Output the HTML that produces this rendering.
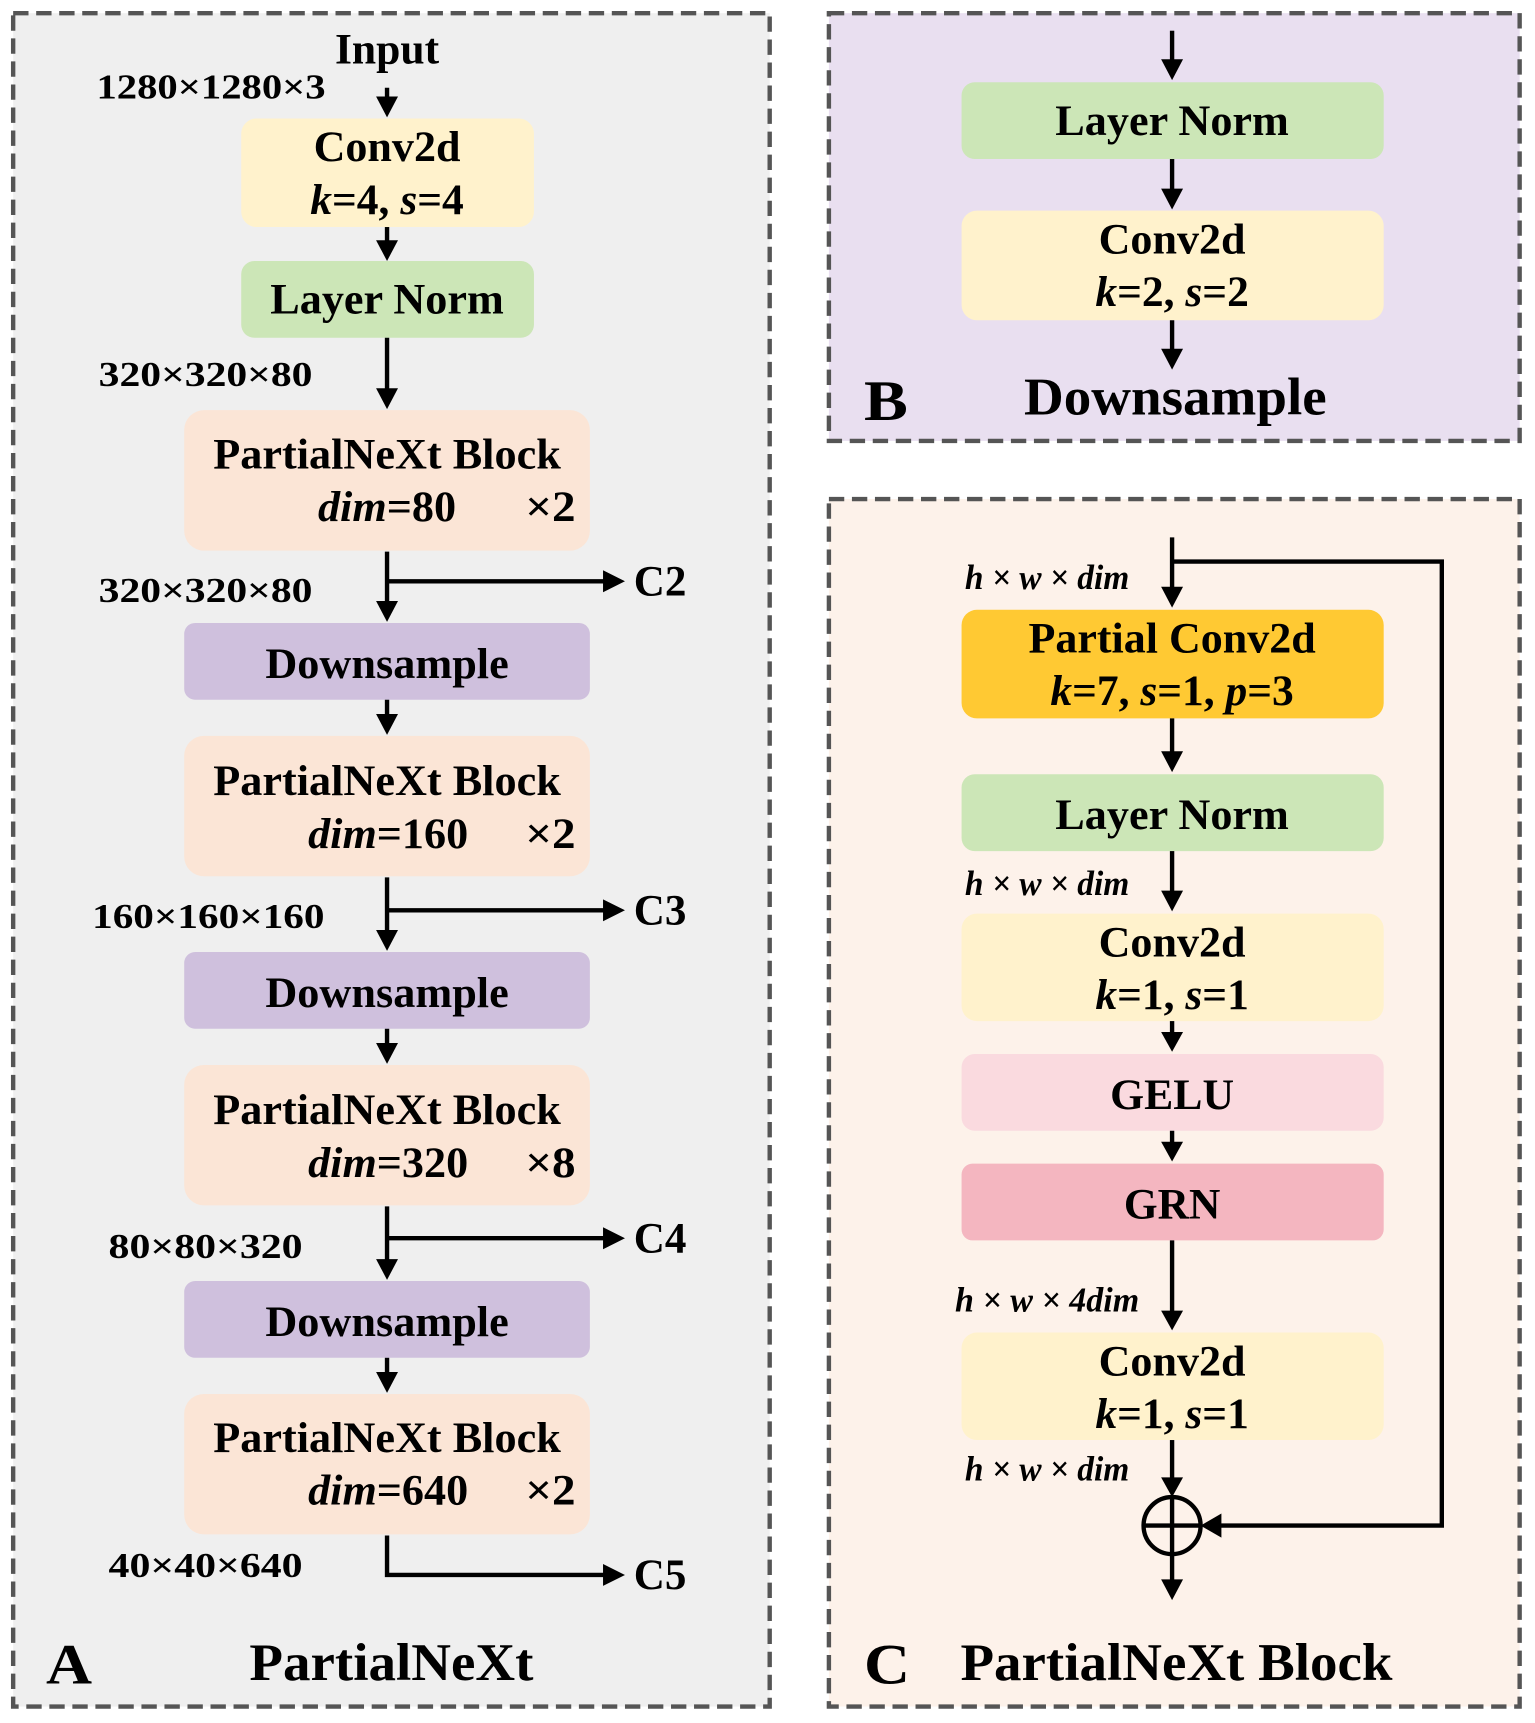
<!DOCTYPE html>
<html><head><meta charset="utf-8"><style>
html,body{margin:0;padding:0;background:#fff;}
svg{display:block;}
text{font-family:"Liberation Serif",serif;font-weight:bold;fill:#000;}
</style></head><body>
<svg width="1535" height="1723" viewBox="0 0 1400 1571" preserveAspectRatio="none" xmlns="http://www.w3.org/2000/svg">
<g stroke="#555" stroke-width="4" stroke-dasharray="14,7">
<rect x="12" y="12" width="690" height="1544" fill="#efefef"/>
<rect x="756" y="12" width="630" height="390" fill="#e9dff0"/>
<rect x="756" y="455" width="630" height="1101" fill="#fdf2ea"/>
</g>
<g>
<rect x="220" y="108" width="267" height="99" rx="14" fill="#fff2cc"/>
<rect x="220" y="238" width="267" height="70" rx="12" fill="#cce6b7"/>
<rect x="168" y="374" width="370" height="128" rx="18" fill="#fbe5d6"/>
<rect x="168" y="568" width="370" height="70" rx="10" fill="#cfc0dd"/>
<rect x="168" y="671" width="370" height="128" rx="18" fill="#fbe5d6"/>
<rect x="168" y="868" width="370" height="70" rx="10" fill="#cfc0dd"/>
<rect x="168" y="971" width="370" height="128" rx="18" fill="#fbe5d6"/>
<rect x="168" y="1168" width="370" height="70" rx="10" fill="#cfc0dd"/>
<rect x="168" y="1271" width="370" height="128" rx="18" fill="#fbe5d6"/>
</g>
<g stroke="#000" stroke-width="4" fill="none">
<line x1="353" y1="80" x2="353" y2="92"/>
<line x1="353" y1="207" x2="353" y2="222"/>
<line x1="353" y1="308" x2="353" y2="356"/>
<line x1="353" y1="503" x2="353" y2="550"/>
<line x1="353" y1="530" x2="552" y2="530"/>
<line x1="353" y1="638" x2="353" y2="653"/>
<line x1="353" y1="800" x2="353" y2="850"/>
<line x1="353" y1="830" x2="552" y2="830"/>
<line x1="353" y1="938" x2="353" y2="953"/>
<line x1="353" y1="1100" x2="353" y2="1150"/>
<line x1="353" y1="1129" x2="552" y2="1129"/>
<line x1="353" y1="1238" x2="353" y2="1253"/>
<polyline points="353,1400 353,1436 552,1436"/>
</g>
<g fill="#000">
<polygon points="343,88 363,88 353,107"/>
<polygon points="343,219 363,219 353,238"/>
<polygon points="343,354 363,354 353,373"/>
<polygon points="343,548 363,548 353,567"/>
<polygon points="550,520 550,540 570,530"/>
<polygon points="343,651 363,651 353,670"/>
<polygon points="343,848 363,848 353,867"/>
<polygon points="550,820 550,840 570,830"/>
<polygon points="343,951 363,951 353,970"/>
<polygon points="343,1148 363,1148 353,1167"/>
<polygon points="550,1119 550,1139 570,1129"/>
<polygon points="343,1251 363,1251 353,1270"/>
<polygon points="550,1426 550,1446 570,1436"/>
</g>
<g font-size="40" text-anchor="middle">
<text x="353" y="58" textLength="95" lengthAdjust="spacingAndGlyphs">Input</text>
<text x="353" y="147" textLength="134" lengthAdjust="spacingAndGlyphs">Conv2d</text>
<text x="353" y="195" textLength="140" lengthAdjust="spacingAndGlyphs"><tspan font-style="italic">k</tspan>=4, <tspan font-style="italic">s</tspan>=4</text>
<text x="353" y="286" textLength="213" lengthAdjust="spacingAndGlyphs">Layer Norm</text>
<text x="353" y="427" textLength="317" lengthAdjust="spacingAndGlyphs">PartialNeXt Block</text>
<text x="353" y="618" textLength="222" lengthAdjust="spacingAndGlyphs">Downsample</text>
<text x="353" y="725" textLength="317" lengthAdjust="spacingAndGlyphs">PartialNeXt Block</text>
<text x="353" y="918" textLength="222" lengthAdjust="spacingAndGlyphs">Downsample</text>
<text x="353" y="1025" textLength="317" lengthAdjust="spacingAndGlyphs">PartialNeXt Block</text>
<text x="353" y="1218" textLength="222" lengthAdjust="spacingAndGlyphs">Downsample</text>
<text x="353" y="1324" textLength="317" lengthAdjust="spacingAndGlyphs">PartialNeXt Block</text>
</g>
<g font-size="40">
<text x="290" y="475" textLength="126" lengthAdjust="spacingAndGlyphs"><tspan font-style="italic">dim</tspan>=80</text>
<text x="479" y="475" textLength="46" lengthAdjust="spacingAndGlyphs">×2</text>
<text x="281" y="773" textLength="146" lengthAdjust="spacingAndGlyphs"><tspan font-style="italic">dim</tspan>=160</text>
<text x="479" y="773" textLength="46" lengthAdjust="spacingAndGlyphs">×2</text>
<text x="281" y="1073" textLength="146" lengthAdjust="spacingAndGlyphs"><tspan font-style="italic">dim</tspan>=320</text>
<text x="479" y="1073" textLength="46" lengthAdjust="spacingAndGlyphs">×8</text>
<text x="281" y="1372" textLength="146" lengthAdjust="spacingAndGlyphs"><tspan font-style="italic">dim</tspan>=640</text>
<text x="479" y="1372" textLength="46" lengthAdjust="spacingAndGlyphs">×2</text>
<text x="578" y="543" textLength="48" lengthAdjust="spacingAndGlyphs">C2</text>
<text x="578" y="843" textLength="48" lengthAdjust="spacingAndGlyphs">C3</text>
<text x="578" y="1142" textLength="48" lengthAdjust="spacingAndGlyphs">C4</text>
<text x="578" y="1449" textLength="48" lengthAdjust="spacingAndGlyphs">C5</text>
</g>
<g font-size="32">
<text x="88" y="90" textLength="209" lengthAdjust="spacingAndGlyphs">1280×1280×3</text>
<text x="90" y="352" textLength="195" lengthAdjust="spacingAndGlyphs">320×320×80</text>
<text x="90" y="549" textLength="195" lengthAdjust="spacingAndGlyphs">320×320×80</text>
<text x="84" y="846" textLength="212" lengthAdjust="spacingAndGlyphs">160×160×160</text>
<text x="99" y="1147" textLength="177" lengthAdjust="spacingAndGlyphs">80×80×320</text>
<text x="99" y="1438" textLength="177" lengthAdjust="spacingAndGlyphs">40×40×640</text>
</g>
<text x="42" y="1535" font-size="52" textLength="42" lengthAdjust="spacingAndGlyphs">A</text>
<text x="357" y="1532" font-size="48" text-anchor="middle" textLength="259" lengthAdjust="spacingAndGlyphs">PartialNeXt</text>

<rect x="877" y="75" width="385" height="70" rx="12" fill="#cce6b7"/>
<rect x="877" y="192" width="385" height="100" rx="14" fill="#fff2cc"/>
<g stroke="#000" stroke-width="4">
<line x1="1069" y1="28" x2="1069" y2="56"/>
<line x1="1069" y1="145" x2="1069" y2="174"/>
<line x1="1069" y1="292" x2="1069" y2="320"/>
</g>
<g fill="#000">
<polygon points="1059,54 1079,54 1069,73"/>
<polygon points="1059,172 1079,172 1069,191"/>
<polygon points="1059,318 1079,318 1069,337"/>
</g>
<g font-size="40" text-anchor="middle">
<text x="1069" y="123" textLength="213" lengthAdjust="spacingAndGlyphs">Layer Norm</text>
<text x="1069" y="231" textLength="134" lengthAdjust="spacingAndGlyphs">Conv2d</text>
<text x="1069" y="279" textLength="140" lengthAdjust="spacingAndGlyphs"><tspan font-style="italic">k</tspan>=2, <tspan font-style="italic">s</tspan>=2</text>
</g>
<text x="788" y="383" font-size="52" textLength="40" lengthAdjust="spacingAndGlyphs">B</text>
<text x="1072" y="378" font-size="48" text-anchor="middle" textLength="276" lengthAdjust="spacingAndGlyphs">Downsample</text>

<rect x="877" y="556" width="385" height="99" rx="14" fill="#ffc933"/>
<rect x="877" y="706" width="385" height="70" rx="12" fill="#cce6b7"/>
<rect x="877" y="833" width="385" height="98" rx="14" fill="#fff2cc"/>
<rect x="877" y="961" width="385" height="70" rx="12" fill="#fadadf"/>
<rect x="877" y="1061" width="385" height="70" rx="10" fill="#f4b6c0"/>
<rect x="877" y="1215" width="385" height="98" rx="14" fill="#fff2cc"/>
<g stroke="#000" stroke-width="4" fill="none">
<line x1="1069" y1="490" x2="1069" y2="536"/>
<polyline points="1069,512 1315,512 1315,1391 1112,1391"/>
<line x1="1069" y1="655" x2="1069" y2="686"/>
<line x1="1069" y1="776" x2="1069" y2="813"/>
<line x1="1069" y1="931" x2="1069" y2="942"/>
<line x1="1069" y1="1031" x2="1069" y2="1042"/>
<line x1="1069" y1="1131" x2="1069" y2="1196"/>
<line x1="1069" y1="1313" x2="1069" y2="1348"/>
<circle cx="1069" cy="1391" r="26"/>
<line x1="1043" y1="1391" x2="1095" y2="1391"/>
<line x1="1069" y1="1365" x2="1069" y2="1441"/>
</g>
<g fill="#000">
<polygon points="1059,535 1079,535 1069,554"/>
<polygon points="1059,685 1079,685 1069,704"/>
<polygon points="1059,812 1079,812 1069,831"/>
<polygon points="1059,941 1079,941 1069,959"/>
<polygon points="1059,1041 1079,1041 1069,1059"/>
<polygon points="1059,1195 1079,1195 1069,1213"/>
<polygon points="1059,1347 1079,1347 1069,1365"/>
<polygon points="1114,1380 1114,1402 1095,1391"/>
<polygon points="1059,1440 1079,1440 1069,1459"/>
</g>
<g font-size="40" text-anchor="middle">
<text x="1069" y="595" textLength="262" lengthAdjust="spacingAndGlyphs">Partial Conv2d</text>
<text x="1069" y="643" textLength="222" lengthAdjust="spacingAndGlyphs"><tspan font-style="italic">k</tspan>=7, <tspan font-style="italic">s</tspan>=1, <tspan font-style="italic">p</tspan>=3</text>
<text x="1069" y="756" textLength="213" lengthAdjust="spacingAndGlyphs">Layer Norm</text>
<text x="1069" y="872" textLength="134" lengthAdjust="spacingAndGlyphs">Conv2d</text>
<text x="1069" y="920" textLength="140" lengthAdjust="spacingAndGlyphs"><tspan font-style="italic">k</tspan>=1, <tspan font-style="italic">s</tspan>=1</text>
<text x="1069" y="1011" textLength="113" lengthAdjust="spacingAndGlyphs">GELU</text>
<text x="1069" y="1111" textLength="88" lengthAdjust="spacingAndGlyphs">GRN</text>
<text x="1069" y="1254" textLength="134" lengthAdjust="spacingAndGlyphs">Conv2d</text>
<text x="1069" y="1302" textLength="140" lengthAdjust="spacingAndGlyphs"><tspan font-style="italic">k</tspan>=1, <tspan font-style="italic">s</tspan>=1</text>
</g>
<g font-size="32" font-style="italic">
<text x="880" y="537" textLength="150" lengthAdjust="spacingAndGlyphs">h × w × dim</text>
<text x="880" y="816" textLength="150" lengthAdjust="spacingAndGlyphs">h × w × dim</text>
<text x="871" y="1196" textLength="168" lengthAdjust="spacingAndGlyphs">h × w × 4dim</text>
<text x="880" y="1350" textLength="150" lengthAdjust="spacingAndGlyphs">h × w × dim</text>
</g>
<text x="788" y="1535" font-size="52" textLength="42" lengthAdjust="spacingAndGlyphs">C</text>
<text x="1073" y="1532" font-size="48" text-anchor="middle" textLength="394" lengthAdjust="spacingAndGlyphs">PartialNeXt Block</text>
</svg>
</body></html>
